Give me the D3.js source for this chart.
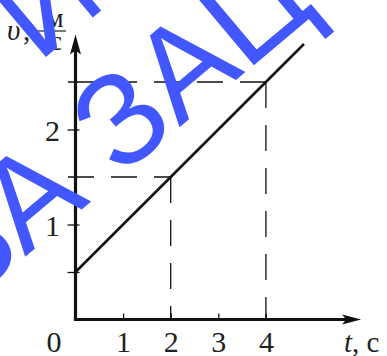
<!DOCTYPE html>
<html><head><meta charset="utf-8">
<script src="https://cdn.jsdelivr.net/npm/d3@7"></script>
<style>body{margin:0;background:#fff}svg{display:block}</style>
</head><body>
<script>
// ---- data ----
const tTicks = [1, 2, 3, 4];
const tTickLabels = ["1", "2", "3", "4"];
const vTicks = [0.5, 1, 2];
const vTickLabels = ["", "1", "2"];
const originLabel = "0";
const lineT = [0, 4.8];
const lineV = [0.5, 2.9];
const guideT = [2, 4];
const guideV = [1.5, 2.5];
const axisMaxT = 6;
const axisMaxV = 3;
const xTitle = ["t", ", с"];
const yTitle = ["υ", ",", "м", "с"];
const watermarkLines = ["И", "БА ЗАЦ"];

// ---- layout ----
const W = 387, H = 356;
const x = d3.scaleLinear().domain([0, 4]).range([75.5, 265.9]);
const y = d3.scaleLinear().domain([0, 2]).range([319.5, 129.5]);
const ink = "#111";
const serif = "'Liberation Serif','Times New Roman',serif";

const svg = d3.select("body").append("svg").attr("width", W).attr("height", H);

// guide dashed lines
const guides = guideT.map((t, i) => ({t, v: guideV[i]}));
const g = svg.append("g").attr("stroke", ink).attr("stroke-width", 1.3).attr("stroke-dasharray", "26,17");
g.selectAll("line.h").data(guides).join("line").attr("class", "h")
  .attr("x1", x(0) - 7.5).attr("x2", d => x(d.t)).attr("y1", d => y(d.v)).attr("y2", d => y(d.v));
g.selectAll("line.v").data(guides).join("line").attr("class", "v")
  .attr("x1", d => x(d.t)).attr("x2", d => x(d.t)).attr("y1", d => y(d.v)).attr("y2", y(0));

// x axis ticks + labels
const xAxis = svg.append("g").attr("transform", `translate(0,${y(0)})`)
  .call(d3.axisBottom(x).tickValues(tTicks).tickFormat((d, i) => tTickLabels[i]).tickSizeInner(-6).tickSizeOuter(0));
xAxis.select(".domain").remove();
xAxis.selectAll(".tick line").attr("stroke", ink).attr("stroke-width", 1.3);
xAxis.selectAll(".tick text").attr("y", 32.5).attr("dy", 0)
  .attr("font-family", serif).attr("font-size", 30).attr("fill", "#222");

// y axis ticks + labels
const yAxis = svg.append("g").attr("transform", `translate(${x(0)},0)`)
  .call(d3.axisLeft(y).tickValues(vTicks).tickFormat((d, i) => vTickLabels[i]).tickSizeInner(8).tickSizeOuter(0));
yAxis.select(".domain").remove();
yAxis.selectAll(".tick line").attr("x2", 4).attr("x1", -8).attr("stroke", ink).attr("stroke-width", 1.3);
yAxis.selectAll(".tick text").attr("x", -15.5).attr("dy", 10.5)
  .attr("font-family", serif).attr("font-size", 30).attr("fill", "#222");

// origin label
svg.append("text").attr("x", 54).attr("y", 352).attr("text-anchor", "middle")
  .attr("font-family", serif).attr("font-size", 30).attr("fill", "#222").text(originLabel);

// axes lines with arrows
const xEnd = x(axisMaxT), yEnd = y(axisMaxV);
svg.append("line").attr("x1", x(0) - 1.5).attr("x2", xEnd - 14).attr("y1", y(0)).attr("y2", y(0))
  .attr("stroke", ink).attr("stroke-width", 3.2);
svg.append("line").attr("x1", x(0)).attr("x2", x(0)).attr("y1", y(0) + 1.5).attr("y2", yEnd + 14)
  .attr("stroke", ink).attr("stroke-width", 3.2);
svg.append("path").attr("fill", ink)
  .attr("d", `M${xEnd},${y(0)} L${xEnd - 19},${y(0) - 5} L${xEnd - 15},${y(0)} L${xEnd - 19},${y(0) + 5} Z`);
svg.append("path").attr("fill", ink)
  .attr("d", `M${x(0)},${yEnd} L${x(0) - 5.5},${yEnd + 20} L${x(0)},${yEnd + 16} L${x(0) + 5.5},${yEnd + 20} Z`);

// main line
const line = d3.line().x(d => x(d.t)).y(d => y(d.v));
svg.append("path").datum(lineT.map((t, i) => ({t, v: lineV[i]})))
  .attr("d", line).attr("fill", "none").attr("stroke", ink).attr("stroke-width", 2.6);

// axis titles
const xt = svg.append("text").attr("x", 344).attr("y", 352)
  .attr("font-family", serif).attr("font-size", 29).attr("fill", "#222");
xt.append("tspan").attr("font-style", "italic").text(xTitle[0]);
xt.append("tspan").text(xTitle[1]);

svg.append("text").attr("x", 7).attr("y", 40).attr("font-family", serif).attr("font-style", "italic")
  .attr("font-size", 29).attr("fill", "#222").text(yTitle[0]);
svg.append("text").attr("x", 23).attr("y", 40).attr("font-family", serif)
  .attr("font-size", 29).attr("fill", "#222").text(yTitle[1]);
svg.append("text").attr("x", 55).attr("y", 27).attr("text-anchor", "middle").attr("font-family", serif)
  .attr("font-size", 27).attr("fill", "#222").text(yTitle[2]);
svg.append("line").attr("x1", 36).attr("x2", 66).attr("y1", 31).attr("y2", 31)
  .attr("stroke", "#222").attr("stroke-width", 1.2);
svg.append("text").attr("x", 56).attr("y", 50).attr("text-anchor", "middle").attr("font-family", serif)
  .attr("font-size", 27).attr("fill", "#222").text(yTitle[3]);

// watermark
const wm = svg.append("g").attr("transform", "rotate(-40)")
  .attr("font-family", "'Liberation Sans',Arial,sans-serif").attr("font-size", 130).attr("fill", "#4257ff");
wm.append("text").attr("x", -12).attr("y", 73).text(watermarkLines[0]);
const l2 = wm.append("text").attr("x", 0).attr("y", 213).text(watermarkLines[1]);
const p = l2.node().getStartPositionOfChar(5).x;
l2.attr("x", 142 - p);
</script>
</body></html>
